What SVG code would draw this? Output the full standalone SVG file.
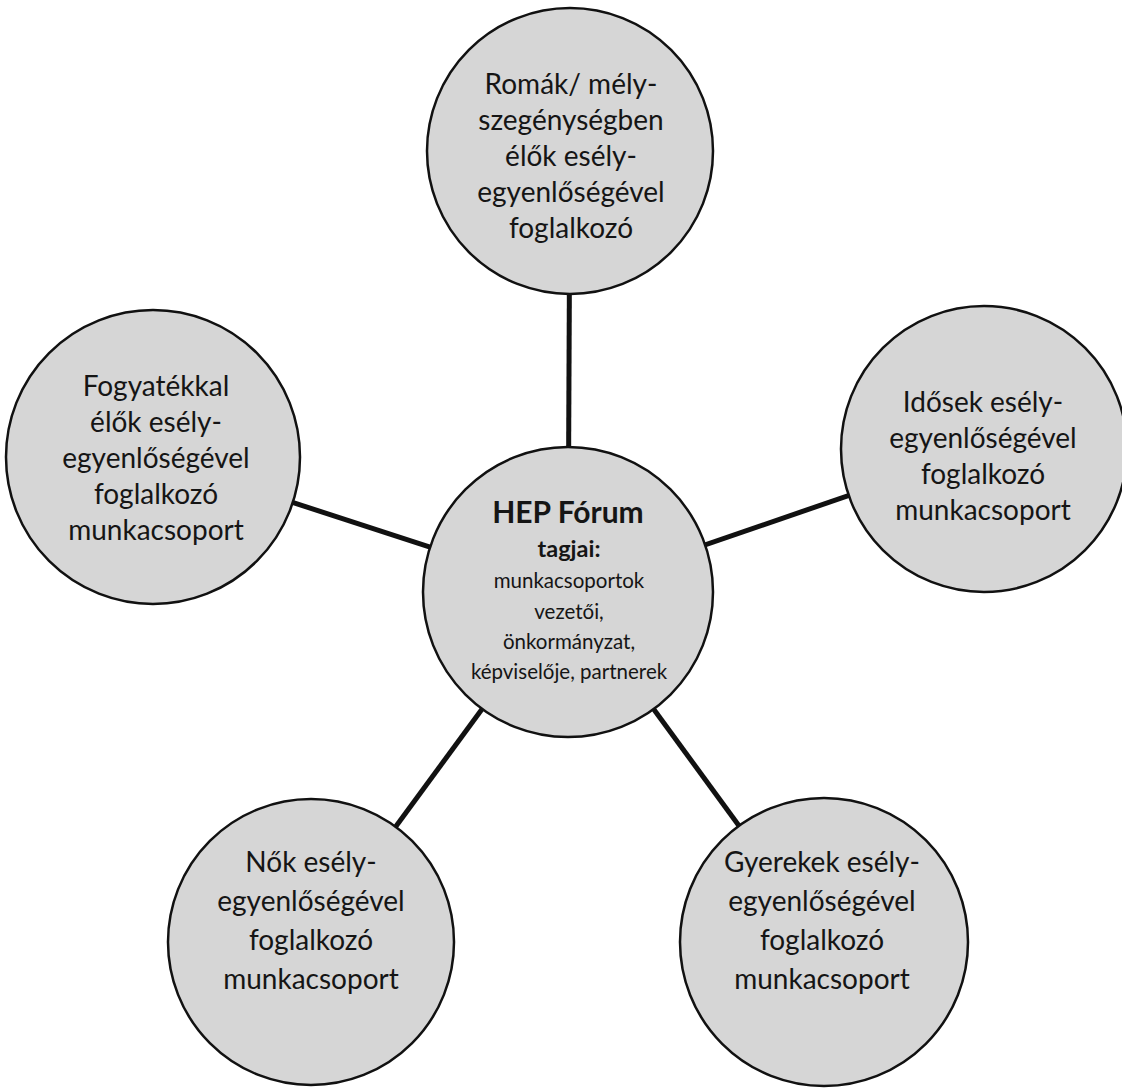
<svg xmlns="http://www.w3.org/2000/svg" width="1122" height="1089" viewBox="0 0 1122 1089">
<style>
  .node { fill: #d6d6d6; stroke: #111; stroke-width: 2.5; }
  .conn { stroke: #111; stroke-width: 5; fill: none; }
  .lbl { font-family: Lato, "Open Sans", "DejaVu Sans", sans-serif; font-size: 28px; fill: #151515; text-anchor: middle; }
  .sm { font-family: Lato, "Open Sans", "DejaVu Sans", sans-serif; font-size: 20.5px; fill: #151515; text-anchor: middle; }
  .title { font-family: Lato, "Open Sans", "DejaVu Sans", sans-serif; font-size: 30px; font-weight: bold; fill: #151515; text-anchor: middle; }
  .sub { font-family: Lato, "Open Sans", "DejaVu Sans", sans-serif; font-size: 23.5px; font-weight: bold; fill: #151515; text-anchor: middle; }
</style>
<rect width="1122" height="1089" fill="#ffffff"/>
<g id="connectors">
  <line class="conn" x1="568" y1="592" x2="570" y2="151"/>
  <line class="conn" x1="568" y1="592" x2="153" y2="457"/>
  <line class="conn" x1="568" y1="592" x2="984" y2="449"/>
  <line class="conn" x1="568" y1="592" x2="311" y2="942"/>
  <line class="conn" x1="568" y1="592" x2="824" y2="942"/>
</g>
<g id="node-romak">
  <circle class="node" cx="570" cy="151" r="143"/>
  <text class="lbl" x="571" y="94">Romák/ mély-</text>
  <text class="lbl" x="571" y="130">szegénységben</text>
  <text class="lbl" x="571" y="166">élők esély-</text>
  <text class="lbl" x="571" y="202">egyenlőségével</text>
  <text class="lbl" x="571" y="238">foglalkozó</text>
</g>
<g id="node-fogyatekkal">
  <circle class="node" cx="153" cy="457" r="147"/>
  <text class="lbl" x="156" y="396">Fogyatékkal</text>
  <text class="lbl" x="156" y="432">élők esély-</text>
  <text class="lbl" x="156" y="468">egyenlőségével</text>
  <text class="lbl" x="156" y="504">foglalkozó</text>
  <text class="lbl" x="156" y="540">munkacsoport</text>
</g>
<g id="node-idosek">
  <circle class="node" cx="984" cy="449" r="143"/>
  <text class="lbl" x="983" y="412">Idősek esély-</text>
  <text class="lbl" x="983" y="448">egyenlőségével</text>
  <text class="lbl" x="983" y="484">foglalkozó</text>
  <text class="lbl" x="983" y="520">munkacsoport</text>
</g>
<g id="node-hep">
  <circle class="node" cx="568" cy="592" r="145"/>
  <text class="title" x="568" y="523">HEP Fórum</text>
  <text class="sub" x="569" y="557">tagjai:</text>
  <text class="sm" x="569" y="588">munkacsoportok</text>
  <text class="sm" x="569" y="619">vezetői,</text>
  <text class="sm" x="569" y="649">önkormányzat,</text>
  <text class="sm" x="569" y="679">képviselője, partnerek</text>
</g>
<g id="node-nok">
  <circle class="node" cx="311" cy="942" r="143"/>
  <text class="lbl" x="311" y="872">Nők esély-</text>
  <text class="lbl" x="311" y="911">egyenlőségével</text>
  <text class="lbl" x="311" y="950">foglalkozó</text>
  <text class="lbl" x="311" y="989">munkacsoport</text>
</g>
<g id="node-gyerekek">
  <circle class="node" cx="824" cy="942" r="144"/>
  <text class="lbl" x="822" y="872">Gyerekek esély-</text>
  <text class="lbl" x="822" y="911">egyenlőségével</text>
  <text class="lbl" x="822" y="950">foglalkozó</text>
  <text class="lbl" x="822" y="989">munkacsoport</text>
</g>
</svg>
